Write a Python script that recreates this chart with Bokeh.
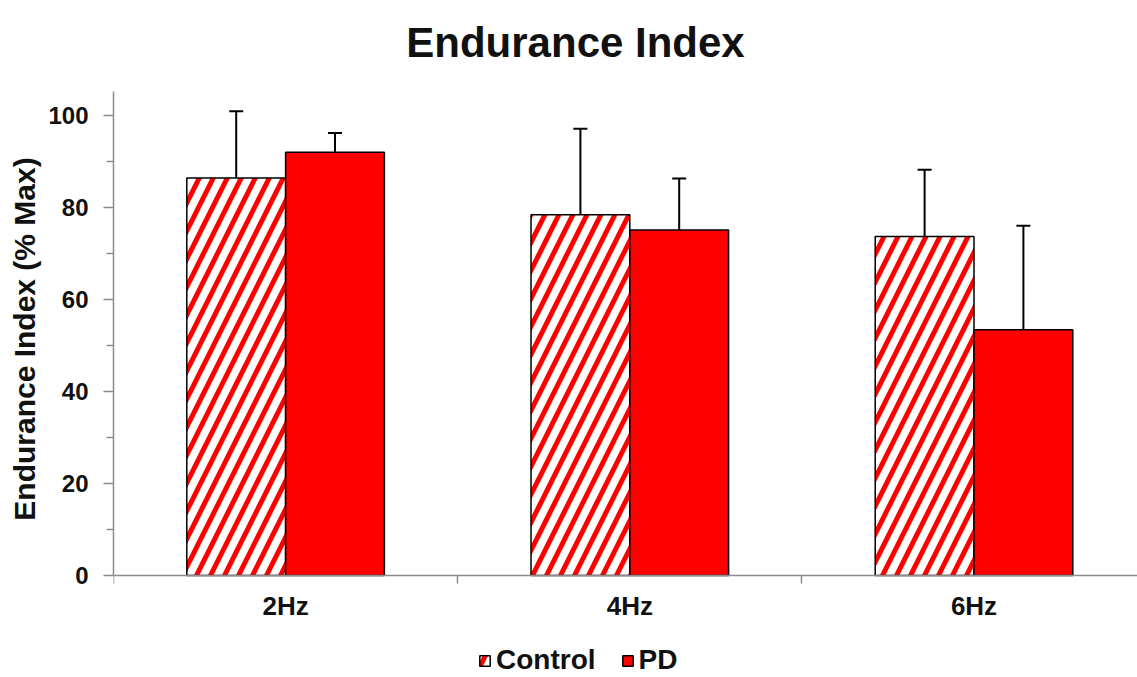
from bokeh.plotting import figure
from bokeh.models import (ColumnDataSource, FixedTicker, Whisker, TeeHead, Legend,
                          LegendItem, Range1d, Label)
from bokeh.embed import file_html
from bokeh.resources import INLINE

# ---- data ----
categories = ["2Hz", "4Hz", "6Hz"]
control_mean = [86.4, 78.4, 73.7]
control_err = [14.5, 18.7, 14.5]
pd_mean = [92.0, 75.1, 53.4]
pd_err = [4.2, 11.2, 22.6]
series_names = ["Control", "PD"]
y_ticks = [0, 20, 40, 60, 80, 100]
y_minor_ticks = [10, 30, 50, 70, 90]
title_text = "Endurance Index"
y_label = "Endurance Index (% Max)"

FONT = "Liberation Sans"
BAR_W = 0.287
AXIS_COLOR = "#8c8c8c"

# layout (pixels): frame spans the full figure height; value axis 0..Y_TOP
W, H = 1137, 677
LEFT = 113
Y0_PX, YTOP_PX = 575, 91          # pixel rows of y=0 and y=Y_TOP
Y_TOP = 105.2
PX_PER_UNIT = (Y0_PX - YTOP_PX) / Y_TOP
y_start = -(H - Y0_PX) / PX_PER_UNIT
y_end = Y_TOP + YTOP_PX / PX_PER_UNIT

idx = list(range(len(categories)))
ctrl_src = ColumnDataSource(dict(
    x=[i + 0.5 - BAR_W / 2 for i in idx],
    top=control_mean,
    upper=[m + e for m, e in zip(control_mean, control_err)],
))
pd_src = ColumnDataSource(dict(
    x=[i + 0.5 + BAR_W / 2 for i in idx],
    top=pd_mean,
    upper=[m + e for m, e in zip(pd_mean, pd_err)],
))

p = figure(width=W, height=H, output_backend="svg", toolbar_location=None,
           x_range=Range1d(0, 2.975), y_range=Range1d(y_start, y_end),
           min_border_left=LEFT, min_border_right=0, min_border_top=0,
           min_border_bottom=0)
p.outline_line_color = None
p.xgrid.visible = False
p.ygrid.visible = False
p.background_fill_color = "white"
p.border_fill_color = "white"

ctrl = p.vbar(x="x", top="top", bottom=0, width=BAR_W, source=ctrl_src,
              fill_color="white", line_color="black", line_width=1.5,
              hatch_pattern="/", hatch_color="#ff0000", hatch_scale=28,
              hatch_weight=5)
pdr = p.vbar(x="x", top="top", bottom=0, width=BAR_W, source=pd_src,
             fill_color="#ff0000", line_color="black", line_width=1.5)

for src in (ctrl_src, pd_src):
    w = Whisker(source=src, base="x", lower="top", upper="upper",
                dimension="height", line_color="black", line_width=2,
                upper_head=TeeHead(size=14, line_width=2, line_color="black"),
                lower_head=None)
    p.add_layout(w)

# y axis
yax = p.yaxis[0]
yax.bounds = (0, Y_TOP)
yax.ticker = FixedTicker(ticks=y_ticks, minor_ticks=y_minor_ticks)
yax.axis_line_color = AXIS_COLOR
yax.axis_line_width = 1.5
yax.major_tick_line_color = AXIS_COLOR
yax.minor_tick_line_color = AXIS_COLOR
yax.major_tick_line_width = 1.5
yax.minor_tick_line_width = 1.5
yax.major_tick_out = 10
yax.major_tick_in = 0
yax.minor_tick_out = 7
yax.minor_tick_in = 0
yax.major_label_standoff = 15
yax.major_label_text_font = FONT
yax.major_label_text_font_style = "bold"
yax.major_label_text_font_size = "24px"
yax.major_label_text_color = "#111111"
yax.axis_label = y_label
yax.axis_label_text_font = FONT
yax.axis_label_text_font_style = "bold"
yax.axis_label_text_font_size = "30px"
yax.axis_label_text_color = "#111111"
yax.axis_label_standoff = 4

# x axis, drawn at y = 0
xax = p.xaxis[0]
xax.fixed_location = 0
xax.ticker = FixedTicker(ticks=[i + 0.5 for i in idx],
                         minor_ticks=[float(i) for i in idx] + [float(len(idx))])
xax.major_label_overrides = {i + 0.5: c for i, c in zip(idx, categories)}
xax.axis_line_color = AXIS_COLOR
xax.axis_line_width = 1.5
xax.major_tick_out = 0
xax.major_tick_in = 0
xax.minor_tick_out = 8
xax.minor_tick_in = 0
xax.minor_tick_line_color = AXIS_COLOR
xax.minor_tick_line_width = 1.5
xax.major_label_standoff = 7
xax.major_label_text_font = FONT
xax.major_label_text_font_style = "bold"
xax.major_label_text_font_size = "26px"
xax.major_label_text_color = "#111111"

# legend (screen offsets relative to the frame's bottom-left corner)
legend = Legend(items=[LegendItem(label=series_names[0], renderers=[ctrl]),
                       LegendItem(label=series_names[1], renderers=[pdr])],
                orientation="horizontal", location=(365, 1),
                glyph_width=13, glyph_height=13, label_standoff=5, spacing=25,
                padding=0, margin=0, border_line_color=None,
                background_fill_alpha=0,
                label_text_font=FONT, label_text_font_style="bold",
                label_text_font_size="28px", label_text_color="#111111")
p.add_layout(legend)

# chart title
p.add_layout(Label(x=575 - LEFT, y=H - 42, x_units="screen", y_units="screen",
                   text=title_text, text_align="center",
                   text_baseline="alphabetic", text_font=FONT,
                   text_font_style="bold", text_font_size="42px",
                   text_color="#111111"))

open("out.html", "w").write(file_html(p, INLINE))
